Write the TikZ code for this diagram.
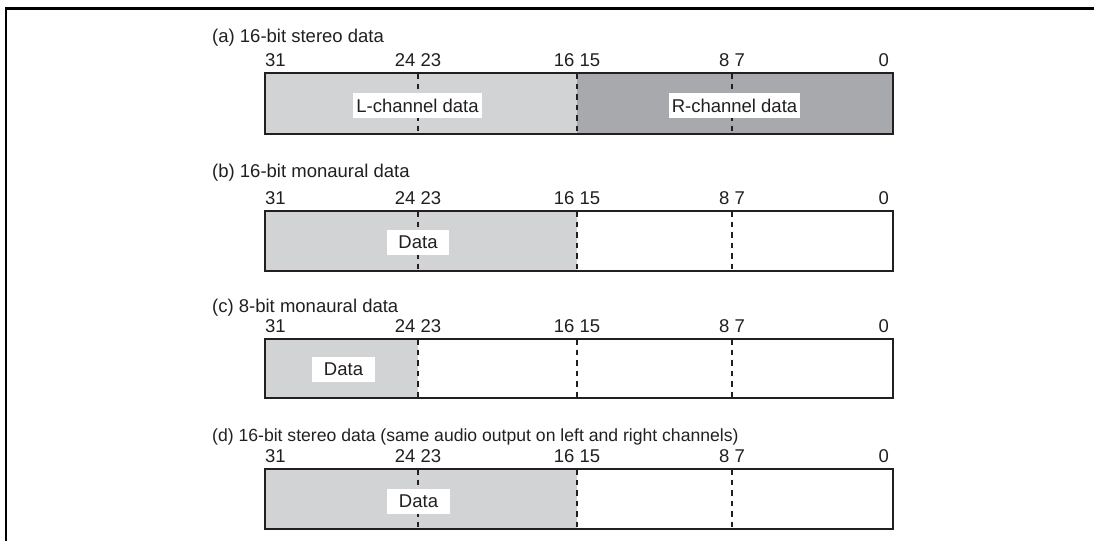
\documentclass[tikz,border=0pt]{standalone}
\usepackage{fontspec}
\setmainfont{Liberation Sans}
\definecolor{lgray}{HTML}{D1D3D4}
\definecolor{dgray}{HTML}{A7A9AC}
\definecolor{ink}{HTML}{231F20}
\begin{document}
\begin{tikzpicture}[x=1pt,y=-1pt,
  txt/.style={inner sep=0pt, font=\fontsize{18.5}{20}\selectfont, text=ink},
  regbox/.style={draw=ink, line width=2pt},
  divider/.style={draw=ink, line width=2pt, dash pattern=on 5.5pt off 5pt},
  tag/.style={fill=white, inner sep=0pt, minimum height=25pt, font=\fontsize{18.5}{20}\selectfont, text=ink},
  frame/.style={draw=black, line width=2.4pt}]
\useasboundingbox (0,0) rectangle (1094,541);
\draw[frame] (6.2,541) -- (6.2,8.3) -- (1094,8.3);

% ---------- (a)
\node[txt, anchor=base west] (la) at (212,42) {(a) 16-bit stereo data};
\node[txt, anchor=base west] (a31) at (265,66) {31};
\node[txt, anchor=base] (a24) at (418,66) {24 23};
\node[txt, anchor=base] (a16) at (577,66) {16 15};
\node[txt, anchor=base] (a8) at (732,66) {8 7};
\node[txt, anchor=base east] (a0) at (889,66) {0};
\fill[lgray] (265,73) rectangle (577,134);
\fill[dgray] (577,73) rectangle (893,134);
\draw[divider] (418,73) -- (418,134);
\draw[divider] (577,73) -- (577,134);
\draw[divider] (732,73) -- (732,134);
\node[tag, minimum width=129pt] (al) at (417.5,105.5) {L-channel data};
\node[tag, minimum width=131pt] (ar) at (734.5,105.5) {R-channel data};
\draw[regbox] (265,73) rectangle (893,134);

% ---------- (b)
\node[txt, anchor=base west] (lb) at (212,177) {(b) 16-bit monaural data};
\node[txt, anchor=base west] (b31) at (265,204) {31};
\node[txt, anchor=base] (b24) at (418,204) {24 23};
\node[txt, anchor=base] (b16) at (577,204) {16 15};
\node[txt, anchor=base] (b8) at (732,204) {8 7};
\node[txt, anchor=base east] (b0) at (889,204) {0};
\fill[lgray] (265,211) rectangle (577,271);
\draw[divider] (418,211) -- (418,271);
\draw[divider] (577,211) -- (577,271);
\draw[divider] (732,211) -- (732,271);
\node[tag, minimum width=62pt] (bd) at (418,242) {Data};
\draw[regbox] (265,211) rectangle (893,271);

% ---------- (c)
\node[txt, anchor=base west] (lc) at (212,312) {(c) 8-bit monaural data};
\node[txt, anchor=base west] (c31) at (265,332) {31};
\node[txt, anchor=base] (c24) at (418,332) {24 23};
\node[txt, anchor=base] (c16) at (577,332) {16 15};
\node[txt, anchor=base] (c8) at (732,332) {8 7};
\node[txt, anchor=base east] (c0) at (889,332) {0};
\fill[lgray] (265,339) rectangle (418,398);
\draw[divider] (418,339) -- (418,398);
\draw[divider] (577,339) -- (577,398);
\draw[divider] (732,339) -- (732,398);
\node[tag, minimum width=63pt] (cd) at (343.5,369.5) {Data};
\draw[regbox] (265,339) rectangle (893,398);

% ---------- (d)
\node[txt, anchor=base west, font=\fontsize{17.6}{20}\selectfont] (ld) at (212,441) {(d) 16-bit stereo data (same audio output on left and right channels)};
\node[txt, anchor=base west] (d31) at (265,462) {31};
\node[txt, anchor=base] (d24) at (418,462) {24 23};
\node[txt, anchor=base] (d16) at (577,462) {16 15};
\node[txt, anchor=base] (d8) at (732,462) {8 7};
\node[txt, anchor=base east] (d0) at (889,462) {0};
\fill[lgray] (265,469) rectangle (577,529);
\draw[divider] (418,469) -- (418,529);
\draw[divider] (577,469) -- (577,529);
\draw[divider] (732,469) -- (732,529);
\node[tag, minimum width=63pt] (dd) at (418.5,501.5) {Data};
\draw[regbox] (265,469) rectangle (893,529);
\end{tikzpicture}
\end{document}
